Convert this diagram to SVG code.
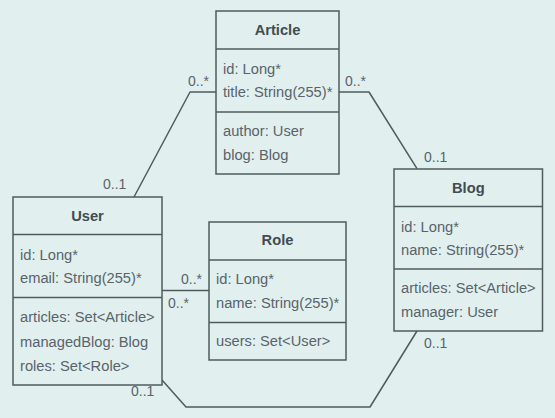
<svg xmlns="http://www.w3.org/2000/svg" width="555" height="418" viewBox="0 0 555 418">
<style>
.bg{fill:#e1f0ef}
.box{fill:#e1f0ef;stroke:#4f5b5d;stroke-width:1.5}
.sep{stroke:#4f5b5d;stroke-width:1.5}
.t{font-family:"Liberation Sans",Arial,sans-serif;font-size:14.7px;fill:#59636a}
.h{font-family:"Liberation Sans",Arial,sans-serif;font-size:14.7px;font-weight:bold;fill:#414c50;text-anchor:middle}
.lbl{font-family:"Liberation Sans",Arial,sans-serif;font-size:14px;fill:#59636a}
.c{fill:none;stroke:#4f5b5d;stroke-width:1.5;stroke-linejoin:round}
</style>
<rect class="bg" x="0" y="0" width="555" height="418"/>
<g id="connectors">
<path class="c" d="M216,92 L190,92 L134,197"/>
<path class="c" d="M339,92 L369,92 L417,168.7"/>
<path class="c" d="M162,290.5 L209,290.5"/>
<path class="c" d="M162,380 L186,407 L370,407 L417,331"/>
<text class="lbl" x="188" y="86">0..*</text>
<text class="lbl" x="103" y="189">0..1</text>
<text class="lbl" x="345" y="86">0..*</text>
<text class="lbl" x="424" y="162">0..1</text>
<text class="lbl" x="181" y="284">0..*</text>
<text class="lbl" x="168" y="308">0..*</text>
<text class="lbl" x="131" y="396">0..1</text>
<text class="lbl" x="424" y="348">0..1</text>
</g>
<g id="article">
<rect class="box" x="216" y="11" width="123" height="163"/>
<line class="sep" x1="216" y1="49" x2="339" y2="49"/>
<line class="sep" x1="216" y1="112" x2="339" y2="112"/>
<text class="h" x="277.5" y="35">Article</text>
<text class="t" x="223" y="74">id: Long*</text>
<text class="t" x="223" y="97">title: String(255)*</text>
<text class="t" x="223" y="136">author: User</text>
<text class="t" x="223" y="160">blog: Blog</text>
</g>
<g id="user">
<rect class="box" x="13" y="197" width="149" height="188"/>
<line class="sep" x1="13" y1="234.5" x2="162" y2="234.5"/>
<line class="sep" x1="13" y1="297.5" x2="162" y2="297.5"/>
<text class="h" x="87.5" y="221">User</text>
<text class="t" x="20" y="260">id: Long*</text>
<text class="t" x="20" y="283">email: String(255)*</text>
<text class="t" x="20" y="322">articles: Set&lt;Article&gt;</text>
<text class="t" x="20" y="347">managedBlog: Blog</text>
<text class="t" x="20" y="371">roles: Set&lt;Role&gt;</text>
</g>
<g id="role">
<rect class="box" x="209" y="222" width="137" height="138"/>
<line class="sep" x1="209" y1="260" x2="346" y2="260"/>
<line class="sep" x1="209" y1="322.5" x2="346" y2="322.5"/>
<text class="h" x="277.5" y="245">Role</text>
<text class="t" x="216" y="284">id: Long*</text>
<text class="t" x="216" y="307.5">name: String(255)*</text>
<text class="t" x="216" y="346">users: Set&lt;User&gt;</text>
</g>
<g id="blog">
<rect class="box" x="394" y="169" width="148.5" height="162"/>
<line class="sep" x1="394" y1="206.5" x2="542.5" y2="206.5"/>
<line class="sep" x1="394" y1="269" x2="542.5" y2="269"/>
<text class="h" x="468.3" y="193">Blog</text>
<text class="t" x="401" y="232">id: Long*</text>
<text class="t" x="401" y="255">name: String(255)*</text>
<text class="t" x="401" y="293">articles: Set&lt;Article&gt;</text>
<text class="t" x="401" y="317">manager: User</text>
</g>
</svg>
